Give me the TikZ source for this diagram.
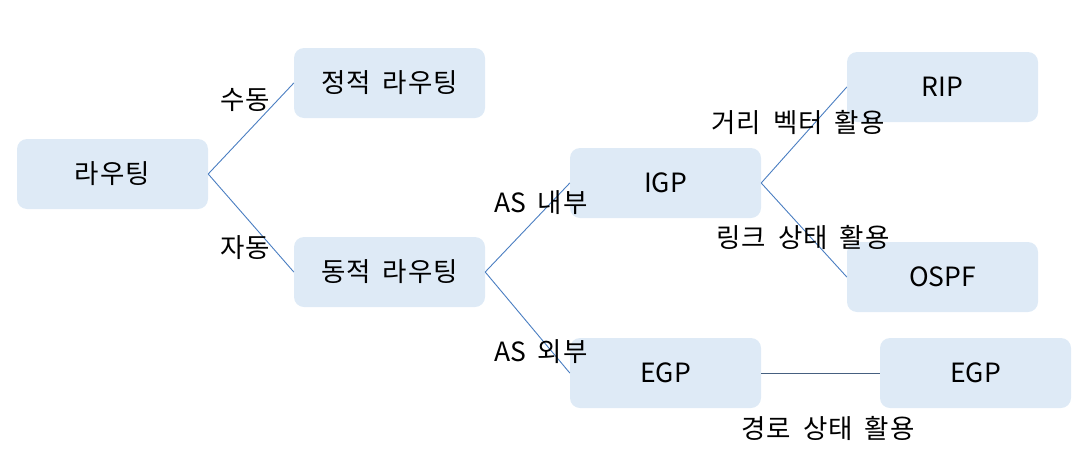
\documentclass[tikz,border=0pt]{standalone}
\usepackage{fontspec}
\setmainfont[LetterSpace=4,WordSpace=1.7]{Noto Sans CJK KR}
\newfontfamily\latn{Noto Sans CJK KR}
\definecolor{boxfill}{RGB}{222,234,246}
\definecolor{linkblue}{RGB}{74,126,193}
\definecolor{linkdark}{RGB}{70,96,128}
\tikzset{
  box/.style={fill=boxfill, rounded corners=10pt, minimum width=191pt, minimum height=70pt, inner sep=0pt, font=\fontsize{26.5}{30}\selectfont},
  lbl/.style={inner sep=0pt, font=\fontsize{26.5}{30}\selectfont},
  link/.style={draw=linkblue, line width=0.9pt},
  linkd/.style={draw=linkdark, line width=0.9pt}
}
\begin{document}
\begin{tikzpicture}[x=1pt,y=-1pt]
\useasboundingbox (0,0) rectangle (1084,461);
\node[box] (root) at (112.5,174) {라우팅};
\node[box] (static) at (389.5,83) {정적 라우팅};
\node[box] (dynamic) at (389.5,272) {동적 라우팅};
\node[box] (igp) at (665.5,183) {\latn IGP};
\node[box] (rip) at (942.5,87) {\latn RIP};
\node[box] (ospf) at (942.5,277) {\latn OSPF};
\node[box] (egp) at (665.5,373) {\latn EGP};
\node[box] (egp2) at (975.5,373) {\latn EGP};
\draw[link] (root.east) -- (static.west);
\draw[link] (root.east) -- (dynamic.west);
\draw[link] (dynamic.east) -- (igp.west);
\draw[link] (dynamic.east) -- (egp.west);
\draw[link] (igp.east) -- (rip.west);
\draw[link] (igp.east) -- (ospf.west);
\draw[linkd] (egp.east) -- (egp2.west);
\node[lbl] (l1) at (245,100) {수동};
\node[lbl] (l2) at (245,248) {자동};
\node[lbl] (l3) at (541,203) {{\latn AS} 내부};
\node[lbl] (l4) at (541,352) {{\latn AS} 외부};
\node[lbl] (l5) at (798,122) {거리 벡터 활용};
\node[lbl] (l6) at (803,237) {링크 상태 활용};
\node[lbl] (l7) at (828,428) {경로 상태 활용};
\end{tikzpicture}
\end{document}
